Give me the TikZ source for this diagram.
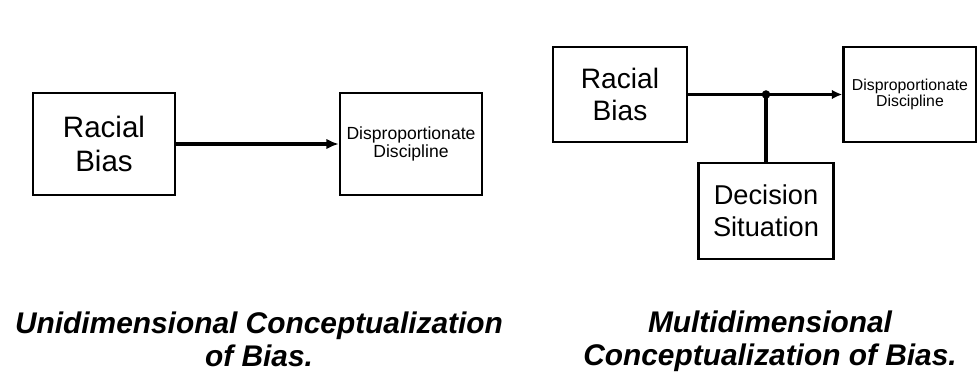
\documentclass[tikz,border=0pt]{standalone}
\usepackage{fontspec}
\setmainfont{Liberation Sans}
\usetikzlibrary{arrows.meta, positioning}

\begin{document}
\begin{tikzpicture}[x=0.02cm, y=-0.02cm,
        box/.style={draw, line width=1.4pt, align=center, inner sep=0pt},
        link/.style={line width=2.2pt},
        caption/.style={font=\fontsize{17}{18.7}\selectfont\bfseries\itshape, align=center}]
    \useasboundingbox (0,0) rectangle (977,374);

    % Left: one cause, one effect
    \node[box, minimum width=2.84cm, minimum height=2.04cm,
          font=\fontsize{16.8}{19.3}\selectfont] (rbl) at (104,144) {Racial\\Bias};
    \node[box, minimum width=2.84cm, minimum height=2.04cm,
          font=\fontsize{10}{10.5}\selectfont] (ddl) at (411,144) {Disproportionate\\Discipline};
    \draw[link, -{Latex[length=7pt, width=6pt]}] (rbl) -- (ddl);

    % Right: the situation joins the path
    \node[box, minimum width=2.68cm, minimum height=1.9cm,
          font=\fontsize{16}{18.1}\selectfont] (rbr) at (620,94.5) {Racial\\Bias};
    \node[box, minimum width=2.66cm, minimum height=1.9cm,
          font=\fontsize{9}{9.3}\selectfont] (ddr) at (910,94.5) {Disproportionate\\Discipline};
    \node[box, minimum width=2.7cm, minimum height=1.92cm,
          font=\fontsize{15.5}{18.1}\selectfont] (dsr) at (766,211) {Decision\\Situation};
    \coordinate (jn) at (dsr.north |- rbr.east);
    \draw[link, -{Latex[length=6pt, width=5.5pt]}] (rbr) -- (ddr);
    \draw[link] (dsr) -- (jn);
    \fill (jn) circle[radius=0.085cm];

    % Captions
    \node[caption] (capl) at (259,339) {Unidimensional Conceptualization\\of Bias.};
    \node[caption] (capr) at (770,341) {Multidimensional\\Conceptualization of Bias.};
\end{tikzpicture}
\end{document}
